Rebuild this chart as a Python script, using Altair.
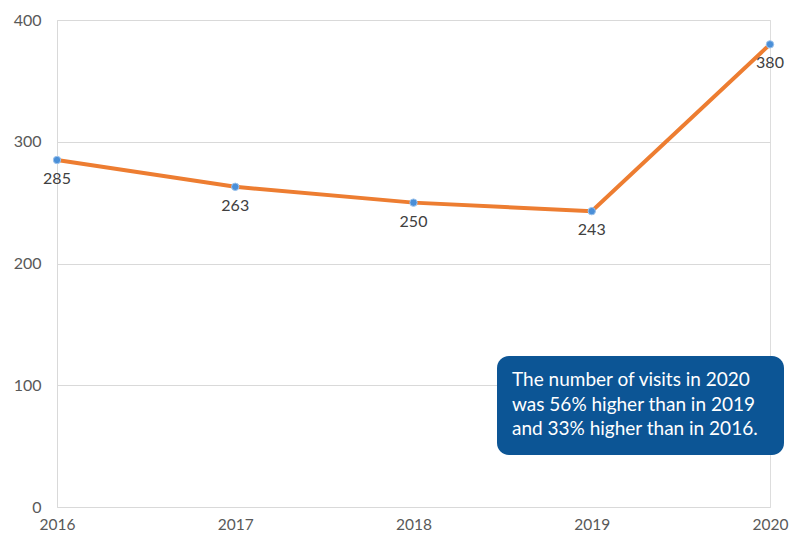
import altair as alt
import pandas as pd

years = [2016, 2017, 2018, 2019, 2020]
visits = [285, 263, 250, 243, 380]
y_ticks = [0, 100, 200, 300, 400]
note_lines = [
    "The number of visits in 2020",
    "was 56% higher than in 2019",
    "and 33% higher than in 2016.",
]

df = pd.DataFrame({"year": years, "visits": visits})

FONT = "Lato"
GRAY = "#595959"

x = alt.X(
    "year:Q",
    scale=alt.Scale(domain=[2016, 2020], nice=False, zero=False),
    axis=alt.Axis(
        values=years, format="d", title=None, grid=False, domain=False,
        ticks=False, labelFlush=False, labelPadding=10, labelFontSize=15.5,
        labelColor=GRAY, labelFont=FONT,
    ),
)
y = alt.Y(
    "visits:Q",
    scale=alt.Scale(domain=[0, 400], nice=False),
    axis=alt.Axis(
        values=y_ticks, title=None, grid=True, gridColor="#d9d9d9",
        domain=True, domainColor="#d9d9d9", ticks=False, tickSize=0,
        labelPadding=16, labelFontSize=16, labelColor=GRAY, labelFont=FONT,
    ),
)

base = alt.Chart(df)

line = base.mark_line(color="#ED7D31", strokeWidth=4).encode(x=x, y=y)
points = base.mark_point(
    filled=True, size=55, color="#4A8FD8", stroke="#9cc3ec", strokeWidth=1, opacity=1
).encode(x=x, y=y)
labels = base.mark_text(
    dy=19, fontSize=16, color="#404040", font=FONT
).encode(x=x, y=y, text=alt.Text("visits:Q"))

box = base.mark_rect(color="#0C5595", cornerRadius=12).encode(
    x=alt.value(440), x2=alt.value(727), y=alt.value(336), y2=alt.value(435)
).transform_filter(alt.datum.year == 2016)

note = base.mark_text(
    align="left", baseline="alphabetic", fontSize=19, color="white",
    font=FONT, lineHeight=24.5,
).encode(
    x=alt.value(455), y=alt.value(366), text=alt.value(note_lines)
).transform_filter(alt.datum.year == 2016)

chart = alt.layer(line, points, labels, box, note).properties(
    width=713, height=487,
    autosize=alt.AutoSizeParams(type="none"),
    padding={"left": 49, "top": 12, "right": 25, "bottom": 25},
).configure_view(stroke=None).configure(background="white")

chart.save("out.html", embed_options={"renderer": "svg", "actions": False})
